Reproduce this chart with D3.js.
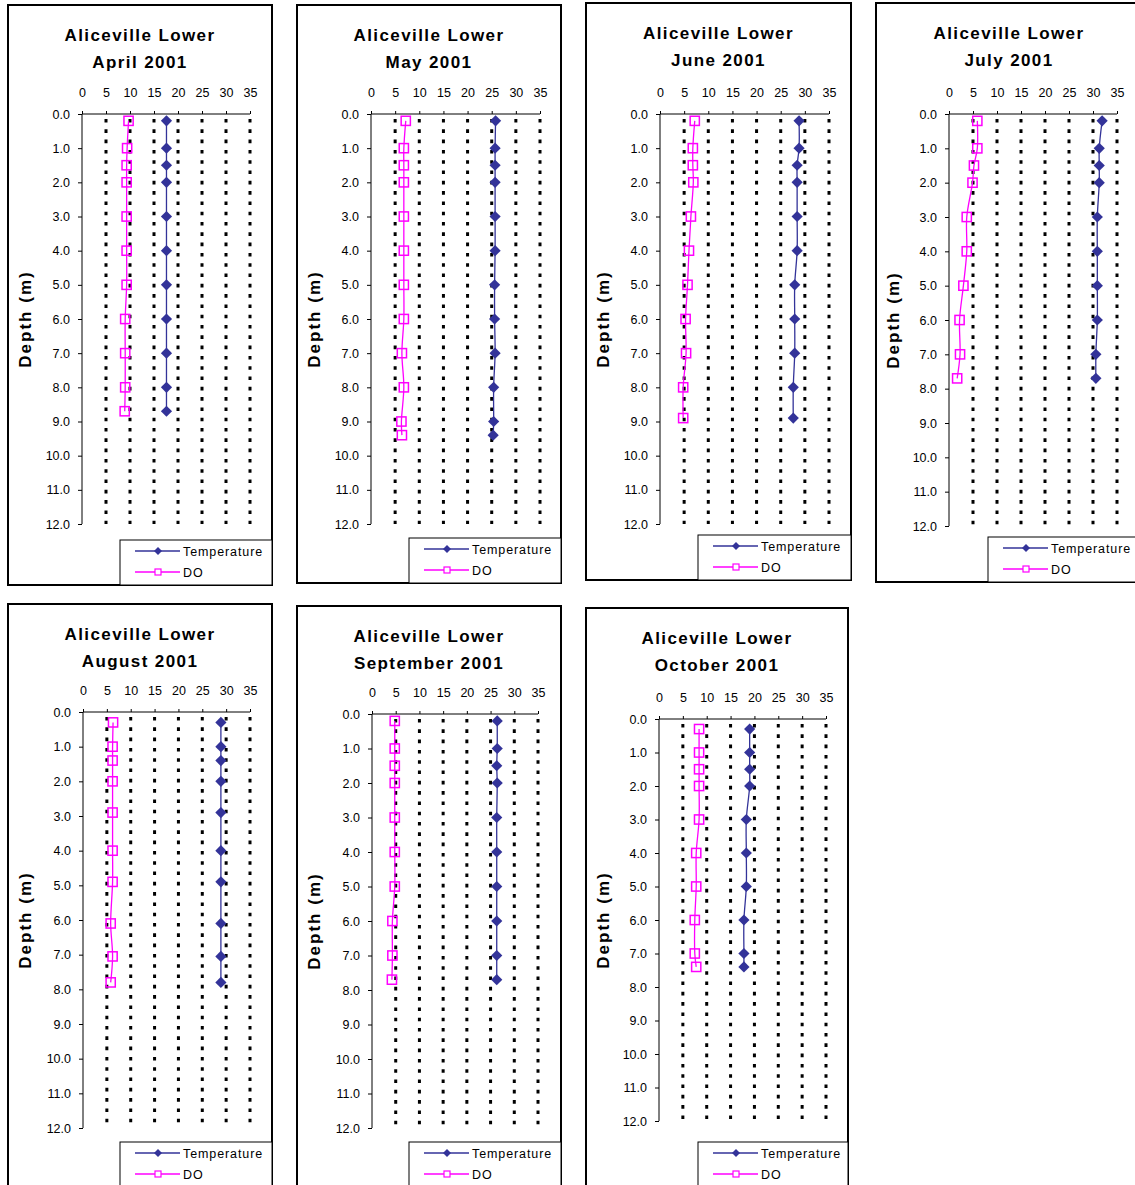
<!DOCTYPE html>
<html>
<head>
<meta charset="utf-8">
<script src="https://cdn.jsdelivr.net/npm/d3@7"></script>
<style>
  html, body { margin: 0; padding: 0; background: #fff; }
  svg { display: block; font-family: "Liberation Sans", Arial, sans-serif; }
</style>
</head>
<body>
<svg id="chart" width="1135" height="1185"></svg>
<script>
// ---------------- DATA ----------------
const siteName = "Aliceville Lower";
const monthLabels = ["April 2001", "May 2001", "June 2001", "July 2001", "August 2001", "September 2001", "October 2001"];
const xTicks = [0, 5, 10, 15, 20, 25, 30, 35];
const yTicks = [0, 1, 2, 3, 4, 5, 6, 7, 8, 9, 10, 11, 12];
const seriesNames = ["Temperature", "DO"];

const depthApr = [0.2, 1.0, 1.5, 2.0, 3.0, 4.0, 5.0, 6.0, 7.0, 8.0, 8.7];
const tempApr  = [17.6, 17.6, 17.6, 17.6, 17.6, 17.6, 17.6, 17.6, 17.6, 17.6, 17.6];
const doApr    = [9.7, 9.4, 9.3, 9.3, 9.3, 9.3, 9.3, 9.0, 9.0, 9.0, 8.9];

const depthMay = [0.2, 1.0, 1.5, 2.0, 3.0, 4.0, 5.0, 6.0, 7.0, 8.0, 9.0, 9.4];
const tempMay  = [25.8, 25.7, 25.7, 25.7, 25.7, 25.7, 25.6, 25.6, 25.7, 25.4, 25.4, 25.3];
const doMay    = [7.2, 6.8, 6.8, 6.8, 6.8, 6.8, 6.8, 6.8, 6.4, 6.8, 6.3, 6.4];

const depthJun = [0.2, 1.0, 1.5, 2.0, 3.0, 4.0, 5.0, 6.0, 7.0, 8.0, 8.9];
const tempJun  = [28.8, 28.8, 28.4, 28.4, 28.4, 28.4, 27.9, 27.9, 27.9, 27.6, 27.6];
const doJun    = [7.2, 6.8, 6.8, 6.9, 6.4, 6.0, 5.7, 5.3, 5.4, 4.8, 4.8];

const depthJul = [0.2, 1.0, 1.5, 2.0, 3.0, 4.0, 5.0, 6.0, 7.0, 7.7];
const tempJul  = [31.9, 31.3, 31.3, 31.3, 30.9, 30.9, 30.9, 30.9, 30.6, 30.6];
const doJul    = [5.9, 5.9, 5.2, 4.9, 3.7, 3.7, 3.0, 2.2, 2.3, 1.7];

const depthAug = [0.3, 1.0, 1.4, 2.0, 2.9, 4.0, 4.9, 6.1, 7.05, 7.8];
const tempAug  = [28.9, 28.9, 28.9, 28.9, 28.9, 28.9, 28.9, 28.9, 28.9, 28.9];
const doAug    = [6.3, 6.2, 6.2, 6.2, 6.2, 6.2, 6.2, 5.8, 6.2, 5.8];

const depthSep = [0.2, 1.0, 1.5, 2.0, 3.0, 4.0, 5.0, 6.0, 7.0, 7.7];
const tempSep  = [26.4, 26.4, 26.3, 26.4, 26.3, 26.3, 26.3, 26.3, 26.3, 26.3];
const doSep    = [4.8, 4.8, 4.8, 4.8, 4.8, 4.8, 4.8, 4.3, 4.3, 4.2];

const depthOct = [0.3, 1.0, 1.5, 2.0, 3.0, 4.0, 5.0, 6.0, 7.0, 7.4];
const tempOct  = [19.0, 19.0, 19.0, 19.0, 18.3, 18.3, 18.3, 17.8, 17.8, 17.8];
const doOct    = [8.4, 8.4, 8.4, 8.4, 8.4, 7.8, 7.8, 7.5, 7.5, 7.8];

const depthSets = [depthApr, depthMay, depthJun, depthJul, depthAug, depthSep, depthOct];
const tempSets  = [tempApr, tempMay, tempJun, tempJul, tempAug, tempSep, tempOct];
const doSets    = [doApr, doMay, doJun, doJul, doAug, doSep, doOct];

// ---------------- LAYOUT ----------------
// frame: [x, y, w, h]; plot: [xLeft(0), xRight(35), yTop(0.0), yBottom(12.0)]
const layout = [
  { frame: [8, 5, 264, 580],   plot: [82, 250, 114, 524] },
  { frame: [297, 5, 264, 578], plot: [371, 540, 114, 524] },
  { frame: [586, 3, 265, 577], plot: [660, 829, 114, 524] },
  { frame: [876, 3, 266, 579], plot: [949, 1117, 114, 526] },
  { frame: [8, 604, 264, 583], plot: [83, 250, 712, 1128] },
  { frame: [297, 606, 264, 581], plot: [372, 538, 714, 1128] },
  { frame: [586, 608, 262, 579], plot: [659, 826, 719, 1121] }
];

const TEMP_COLOR = "#333399";
const DO_COLOR = "#FF00FF";

const svg = d3.select("#chart");

function diamondPath(r) { return `M0,${-r}L${r},0L0,${r}L${-r},0Z`; }

layout.forEach((L, i) => {
  const [fx, fy, fw, fh] = L.frame;
  const [px0, px1, py0, py1] = L.plot;
  const g = svg.append("g");

  // frame
  g.append("rect").attr("x", fx).attr("y", fy).attr("width", fw).attr("height", fh)
    .attr("fill", "#fff").attr("stroke", "#000").attr("stroke-width", 2);

  const x = d3.scaleLinear().domain([0, 35]).range([px0, px1]);
  const y = d3.scaleLinear().domain([0, 12]).range([py0, py1]);

  // title
  const cx = fx + fw / 2;
  const title = g.append("text").attr("text-anchor", "middle")
    .attr("font-weight", "bold").attr("font-size", 17).attr("letter-spacing", 1.4).attr("fill", "#000");
  title.append("tspan").attr("x", cx).attr("y", fy + 36).text(siteName);
  title.append("tspan").attr("x", cx).attr("y", fy + 63).text(monthLabels[i]);

  // gridlines (dotted)
  g.append("g").selectAll("line").data(xTicks.filter(t => t > 0)).join("line")
    .attr("x1", d => x(d)).attr("x2", d => x(d))
    .attr("y1", y(0) + 5).attr("y2", y(12))
    .attr("stroke", "#000").attr("stroke-width", 3)
    .attr("stroke-dasharray", "3.6,6.7");

  // top axis
  const xAxis = d3.axisTop(x).tickValues(xTicks).tickSize(3).tickPadding(14).tickFormat(d3.format("d"));
  const gx = g.append("g").attr("transform", `translate(0,${y(0)})`).call(xAxis);
  gx.select(".domain").attr("stroke", "#000").attr("d", `M${px0},0H${px1}`);
  gx.selectAll("text").attr("font-size", 12.5).attr("font-family", "Liberation Sans, Arial, sans-serif").attr("fill", "#000");

  // left axis
  const yAxis = d3.axisLeft(y).tickValues(yTicks).tickSize(4).tickPadding(8).tickFormat(d3.format(".1f"));
  const gy = g.append("g").attr("transform", `translate(${x(0)},0)`).call(yAxis);
  gy.select(".domain").attr("stroke", "#000").attr("d", `M0,${py0}V${py1}`);
  gy.selectAll("text").attr("font-size", 12.5).attr("font-family", "Liberation Sans, Arial, sans-serif").attr("fill", "#000");

  // y label
  g.append("text")
    .attr("transform", `translate(${fx + 23},${(py0 + py1) / 2}) rotate(-90)`)
    .attr("text-anchor", "middle").attr("font-weight", "bold").attr("font-size", 17)
    .attr("letter-spacing", 2).text("Depth (m)");

  const depths = depthSets[i];
  const tempPts = depths.map((d, k) => [tempSets[i][k], d]);
  const doPts = depths.map((d, k) => [doSets[i][k], d]);

  const line = d3.line().x(p => x(p[0])).y(p => y(p[1])).curve(d3.curveCatmullRom.alpha(0.5));

  // temperature
  g.append("path").attr("d", line(tempPts)).attr("fill", "none")
    .attr("stroke", TEMP_COLOR).attr("stroke-width", 1.3);
  g.append("g").selectAll("path").data(tempPts).join("path")
    .attr("transform", p => `translate(${x(p[0])},${y(p[1])})`)
    .attr("d", diamondPath(5.6)).attr("fill", TEMP_COLOR);

  // DO
  g.append("path").attr("d", line(doPts)).attr("fill", "none")
    .attr("stroke", DO_COLOR).attr("stroke-width", 1.3);
  g.append("g").selectAll("rect").data(doPts).join("rect")
    .attr("x", p => x(p[0]) - 4.6).attr("y", p => y(p[1]) - 4.6)
    .attr("width", 9.2).attr("height", 9.2)
    .attr("fill", "none").attr("stroke", DO_COLOR).attr("stroke-width", 1.5);

  // legend
  const lx = fx + 112, ly = fy + fh - 45;
  const lg = g.append("g");
  lg.append("rect").attr("x", lx).attr("y", ly).attr("width", fx + fw - lx).attr("height", 45)
    .attr("fill", "#fff").attr("stroke", "#000").attr("stroke-width", 1);
  seriesNames.forEach((name, k) => {
    const ry = ly + 11 + k * 21;
    const col = k === 0 ? TEMP_COLOR : DO_COLOR;
    lg.append("line").attr("x1", lx + 15).attr("x2", lx + 60).attr("y1", ry).attr("y2", ry)
      .attr("stroke", col).attr("stroke-width", 1.5);
    if (k === 0) {
      lg.append("path").attr("transform", `translate(${lx + 38},${ry})`).attr("d", diamondPath(4)).attr("fill", col);
    } else {
      lg.append("rect").attr("x", lx + 35).attr("y", ry - 3).attr("width", 6).attr("height", 6)
        .attr("fill", "#fff").attr("stroke", col).attr("stroke-width", 1.2);
    }
    lg.append("text").attr("x", lx + 63).attr("y", ry + 4.5).attr("font-size", 12.5)
      .attr("letter-spacing", 0.9).attr("fill", "#000").text(name);
  });
});
</script>
</body>
</html>
